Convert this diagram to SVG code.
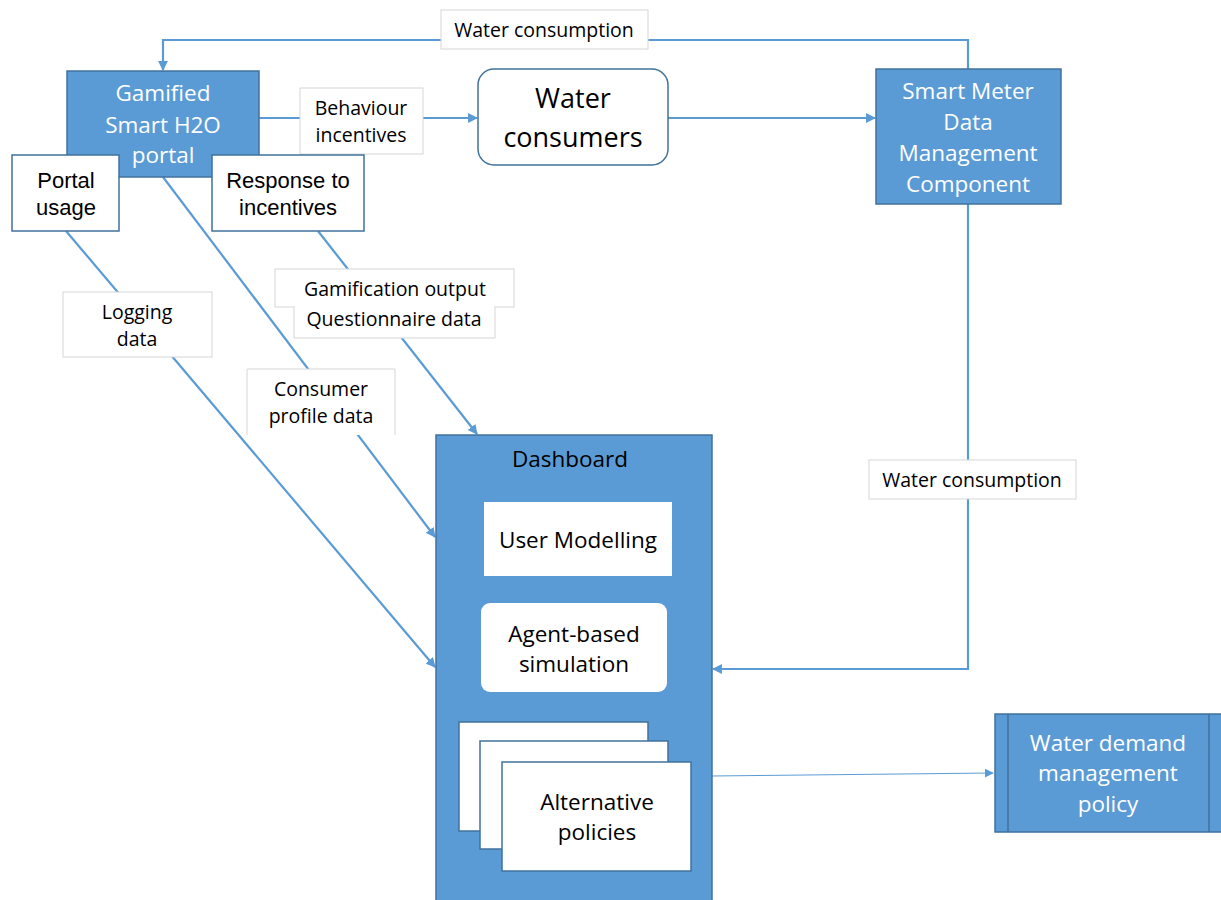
<svg xmlns="http://www.w3.org/2000/svg" width="1221" height="900" viewBox="0 0 1221 900">
<style>
.blue{fill:#5B9BD5;stroke:#41719C;stroke-width:1.5}
.wbox{fill:#fff;stroke:#41719C;stroke-width:1.5}
.lbl{fill:#fff;stroke:#d6d6d6;stroke-width:1}
.inner{fill:#fff;stroke:none}
.conn{fill:none;stroke:#5B9BD5;stroke-width:2.2}
.t{font-family:"Open Sans","Noto Sans",sans-serif;text-anchor:middle;fill:#000}
.tw{font-family:"Open Sans","Noto Sans",sans-serif;text-anchor:middle;fill:#fff}
.ta{font-family:"Liberation Sans",Arial,sans-serif;text-anchor:middle;fill:#000}
.s{font-size:19.5px}
.m{font-size:22.5px}
</style>
<defs>
<marker id="arr" viewBox="0 0 10 10" refX="9" refY="5" markerWidth="4.5" markerHeight="4.5" orient="auto" markerUnits="strokeWidth">
<path d="M0,0 L10,5 L0,10 z" fill="#5B9BD5"/>
</marker>
<marker id="arr2" viewBox="0 0 10 10" refX="9" refY="5" markerWidth="9" markerHeight="9" orient="auto" markerUnits="strokeWidth">
<path d="M0,0 L10,5 L0,10 z" fill="#5B9BD5"/>
</marker>
</defs>

<g id="connectors">
<path class="conn" d="M968,69 L968,40 L163,40 L163,70" marker-end="url(#arr)"/>
<path class="conn" d="M259,118 L477,118" marker-end="url(#arr)"/>
<path class="conn" d="M668,118 L875,118" marker-end="url(#arr)"/>
<path class="conn" d="M968,204 L968,669 L713,669" marker-end="url(#arr)"/>
<path class="conn" d="M66,231 L435,667" marker-end="url(#arr)"/>
<path class="conn" d="M163,177 L435,537" marker-end="url(#arr)"/>
<path class="conn" d="M318,231 L477,434" marker-end="url(#arr)"/>
<path class="conn" d="M712,776 L993,773" marker-end="url(#arr2)" style="stroke-width:1"/>
</g>

<g id="lbl-water-top">
<rect class="lbl" x="441" y="10" width="207" height="39"/>
<text class="t s" x="544" y="37">Water consumption</text>
</g>
<g id="lbl-behaviour">
<rect class="lbl" x="300" y="88" width="123" height="66"/>
<text class="t s" x="361" y="115">Behaviour</text>
<text class="t s" x="361" y="142">incentives</text>
</g>
<g id="lbl-logging">
<rect class="lbl" x="63" y="292" width="149" height="65"/>
<text class="t s" x="137" y="319">Logging</text>
<text class="t s" x="137" y="346">data</text>
</g>
<g id="lbl-consumer">
<path class="lbl" d="M247,435 L247,369 L395,369 L395,435"/>
<rect x="248" y="370" width="146" height="65" fill="#fff"/>
<text class="t s" x="321" y="396">Consumer</text>
<text class="t s" x="321" y="423">profile data</text>
</g>
<g id="lbl-gamification">
<rect class="lbl" x="275" y="269" width="239" height="38"/>
<text class="t s" x="395" y="296">Gamification output</text>
</g>
<g id="lbl-questionnaire">
<path class="lbl" d="M294,307 L294,338 L495,338 L495,307"/>
<rect x="295" y="306" width="199" height="31" fill="#fff"/>
<text class="t s" x="394" y="326">Questionnaire data</text>
</g>
<g id="lbl-water-right">
<rect class="lbl" x="869" y="460" width="207" height="39"/>
<text class="t s" x="972" y="487">Water consumption</text>
</g>

<g id="portal">
<rect class="blue" x="67" y="71" width="192" height="106"/>
<text class="tw m" x="163" y="101">Gamified</text>
<text class="tw m" x="163" y="133">Smart H2O</text>
<text class="tw m" x="163" y="163">portal</text>
</g>
<g id="portal-usage">
<rect class="wbox" x="12" y="155" width="107" height="76"/>
<text class="ta" x="66" y="188" font-size="22">Portal</text>
<text class="ta" x="66" y="215" font-size="22">usage</text>
</g>
<g id="response">
<rect class="wbox" x="212" y="155" width="152" height="76"/>
<text class="ta" x="288" y="188" font-size="22">Response to</text>
<text class="ta" x="288" y="215" font-size="22">incentives</text>
</g>
<g id="water-consumers">
<rect class="wbox" x="478" y="69" width="190" height="96" rx="16"/>
<text class="t" x="573" y="108" font-size="27">Water</text>
<text class="t" x="573" y="147" font-size="27">consumers</text>
</g>
<g id="smart-meter">
<rect class="blue" x="876" y="69" width="185" height="135"/>
<text class="tw m" x="968" y="99">Smart Meter</text>
<text class="tw m" x="968" y="130">Data</text>
<text class="tw m" x="968" y="161">Management</text>
<text class="tw m" x="968" y="192">Component</text>
</g>
<g id="dashboard">
<rect class="blue" x="436" y="435" width="276" height="470"/>
<text class="t m" x="570" y="467">Dashboard</text>
<rect class="inner" x="484" y="502" width="188" height="74"/>
<text class="t m" x="578" y="548">User Modelling</text>
<rect class="inner" x="481" y="603" width="186" height="89" rx="9"/>
<text class="t m" x="574" y="642">Agent-based</text>
<text class="t m" x="574" y="672">simulation</text>
<rect class="wbox" x="459" y="722" width="189" height="109"/>
<rect class="wbox" x="480" y="741" width="188" height="108"/>
<rect class="wbox" x="502" y="762" width="189" height="109"/>
<text class="t m" x="597" y="810">Alternative</text>
<text class="t m" x="597" y="840">policies</text>
</g>
<g id="policy">
<rect class="blue" x="995" y="714" width="232" height="118"/>
<line x1="1008" y1="714" x2="1008" y2="832" stroke="#41719C" stroke-width="1.5"/>
<line x1="1209" y1="714" x2="1209" y2="832" stroke="#41719C" stroke-width="1.5"/>
<text class="tw m" x="1108" y="751">Water demand</text>
<text class="tw m" x="1108" y="781">management</text>
<text class="tw m" x="1108" y="812">policy</text>
</g>
</svg>
